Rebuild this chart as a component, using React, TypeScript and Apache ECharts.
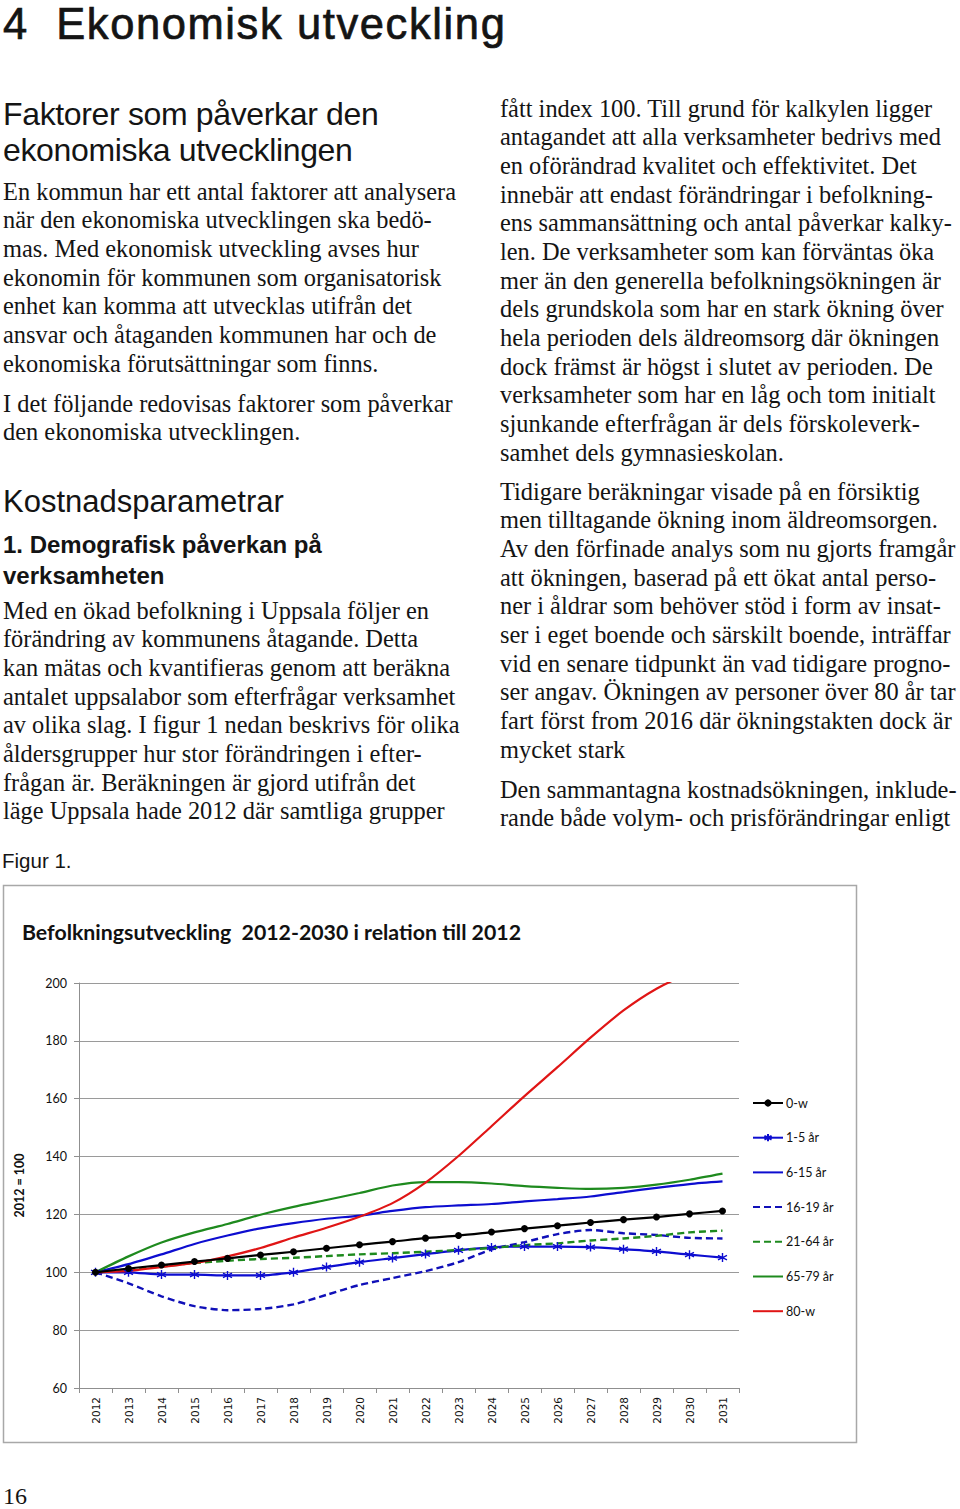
import React, { useEffect, useRef } from "react";
import * as echarts from "echarts";

// ---------- chart data ----------
const years = [
  "2012", "2013", "2014", "2015", "2016", "2017", "2018", "2019", "2020", "2021",
  "2022", "2023", "2024", "2025", "2026", "2027", "2028", "2029", "2030", "2031",
];
const total0w = [100, 101.3, 102.5, 103.7, 104.8, 106.0, 107.1, 108.3, 109.5, 110.6, 111.8, 112.7, 113.9, 115.1, 116.1, 117.2, 118.2, 119.1, 120.2, 121.2];
const age1to5 = [100, 100.0, 99.2, 99.2, 98.9, 98.9, 100.0, 101.8, 103.5, 104.9, 106.3, 107.6, 108.6, 108.9, 108.9, 108.7, 108.0, 107.2, 106.1, 105.1];
const age6to15 = [100, 102.8, 106.2, 109.8, 112.7, 115.2, 117.0, 118.5, 119.6, 121.2, 122.5, 123.1, 123.6, 124.5, 125.3, 126.2, 127.7, 129.2, 130.5, 131.4];
const age16to19 = [100, 96.2, 91.7, 88.3, 86.9, 87.3, 88.9, 92.2, 95.6, 98.0, 100.4, 103.5, 107.9, 110.4, 113.2, 114.6, 113.5, 112.9, 111.9, 111.7];
const age21to64 = [100, 101.0, 102.0, 103.2, 104.0, 104.6, 105.0, 105.6, 106.2, 106.6, 107.1, 107.7, 108.4, 109.4, 110.0, 111.0, 111.7, 112.6, 113.8, 114.4];
const age65to79 = [100, 105.5, 110.3, 113.8, 116.7, 119.9, 122.6, 125.0, 127.4, 130.0, 131.2, 131.2, 130.7, 129.8, 129.2, 128.8, 129.2, 130.3, 132.0, 134.1];
const age80plus = [100, 100.5, 101.8, 103.2, 105.5, 108.4, 112.0, 115.4, 119.2, 123.9, 131.0, 140.2, 150.5, 160.9, 170.9, 181.1, 190.5, 198.0, 203.5, 208.0];
const seriesNames = ["0-w", "1-5 år", "6-15 år", "16-19 år", "21-64 år", "65-79 år", "80-w"];
const yMin = 60;
const yMax = 200;
const yStep = 20;
const chartTitle = "Befolkningsutveckling  2012-2030 i relation till 2012";
const yAxisName = "2012 = 100";

// ---------- page text ----------
const pageHeading = "4  Ekonomisk utveckling";
const leftHeading = ["Faktorer som påverkar den", "ekonomiska utvecklingen"];
const leftPara1 = [
  "En kommun har ett antal faktorer att analysera",
  "när den ekonomiska utvecklingen ska bedö-",
  "mas. Med ekonomisk utveckling avses hur",
  "ekonomin för kommunen som organisatorisk",
  "enhet kan komma att utvecklas utifrån det",
  "ansvar och åtaganden kommunen har och de",
  "ekonomiska förutsättningar som finns.",
];
const leftPara2 = [
  "I det följande redovisas faktorer som påverkar",
  "den ekonomiska utvecklingen.",
];
const sectionHeading = "Kostnadsparametrar";
const subHeading = ["1. Demografisk påverkan på", "verksamheten"];
const leftPara3 = [
  "Med en ökad befolkning i Uppsala följer en",
  "förändring av kommunens åtagande. Detta",
  "kan mätas och kvantifieras genom att beräkna",
  "antalet uppsalabor som efterfrågar verksamhet",
  "av olika slag. I figur 1 nedan beskrivs för olika",
  "åldersgrupper hur stor förändringen i efter-",
  "frågan är. Beräkningen är gjord utifrån det",
  "läge Uppsala hade 2012 där samtliga grupper",
];
const figureLabel = "Figur 1.";
const rightPara1 = [
  "fått index 100. Till grund för kalkylen ligger",
  "antagandet att alla verksamheter bedrivs med",
  "en oförändrad kvalitet och effektivitet. Det",
  "innebär att endast förändringar i befolkning-",
  "ens sammansättning och antal påverkar kalky-",
  "len. De verksamheter som kan förväntas öka",
  "mer än den generella befolkningsökningen är",
  "dels grundskola som har en stark ökning över",
  "hela perioden dels äldreomsorg där ökningen",
  "dock främst är högst i slutet av perioden. De",
  "verksamheter som har en låg och tom initialt",
  "sjunkande efterfrågan är dels förskoleverk-",
  "samhet dels gymnasieskolan.",
];
const rightPara2 = [
  "Tidigare beräkningar visade på en försiktig",
  "men tilltagande ökning inom äldreomsorgen.",
  "Av den förfinade analys som nu gjorts framgår",
  "att ökningen, baserad på ett ökat antal perso-",
  "ner i åldrar som behöver stöd i form av insat-",
  "ser i eget boende och särskilt boende, inträffar",
  "vid en senare tidpunkt än vad tidigare progno-",
  "ser angav. Ökningen av personer över 80 år tar",
  "fart först from 2016 där ökningstakten dock är",
  "mycket stark",
];
const rightPara3 = [
  "Den sammantagna kostnadsökningen, inklude-",
  "rande både volym- och prisförändringar enligt",
];
const pageNumber = "16";

const SERIF = "'Liberation Serif', 'Times New Roman', serif";
const SANS = "'Liberation Sans', Arial, sans-serif";

type LineProps = {
  text: string; x: number; cy: number; size: number; family: string;
  weight?: number; spacing?: number; stroke?: number; lh?: number; top?: number;
};
function Line({ text, x, cy, size, family, weight, spacing, stroke, lh, top }: LineProps) {
  const lineH = lh || size;
  return (
    <div
      style={{
        position: "absolute",
        left: x,
        top: top !== undefined ? top : cy - lineH / 2,
        fontSize: size,
        lineHeight: `${lineH}px`,
        fontFamily: family,
        fontWeight: weight || 400,
        letterSpacing: spacing ? `${spacing}px` : undefined,
        WebkitTextStroke: stroke ? `${stroke}px #141414` : undefined,
        whiteSpace: "pre",
        color: "#141414",
      } as any}
    >
      {text}
    </div>
  );
}

function Block({ lines, x, cy0, step, size, family, weight, spacing }: { lines: string[]; x: number; cy0: number; step: number; size: number; family: string; weight?: number; spacing?: number }) {
  return (
    <>
      {lines.map((t, i) => (
        <Line key={i} text={t} x={x} cy={cy0 + i * step} size={size} family={family} weight={weight} spacing={spacing} />
      ))}
    </>
  );
}

const BLUE = "#0d0dd0";
const DBLUE = "#1010b8";
const GREEN = "#1e8a1e";
const RED = "#e01515";

export default function App() {
  const ref = useRef<HTMLDivElement>(null);

  useEffect(() => {
    if (!ref.current) return;
    const chart = echarts.init(ref.current, null, { renderer: "svg" });
    const asterisk = "path://M5,0L5,10M0.7,2.5L9.3,7.5M0.7,7.5L9.3,2.5";
    const base = { type: "line", smooth: 0.25, lineStyle: { width: 2.2 } };
    const hidden = { itemStyle: { opacity: 0 } };
    const option: any = {
      animation: false,
      backgroundColor: "transparent",
      title: {
        text: chartTitle,
        left: 22,
        top: 41,
        padding: 0,
        textStyle: { fontFamily: "Lato", fontWeight: "bold", fontSize: 21.3, color: "#111" },
      },
      graphic: [
        {
          type: "rect",
          shape: { x: 3.5, y: 5.5, width: 853, height: 557 },
          style: { fill: "none", stroke: "#a8a8a8", lineWidth: 1.5 },
          silent: true,
        },
      ],
      legend: {
        orient: "vertical",
        left: 752,
        top: 216.5,
        padding: 0,
        itemWidth: 30,
        itemHeight: 9,
        itemGap: 21.7,
        textStyle: { fontFamily: "Lato", fontSize: 12.5, color: "#111", lineHeight: 9, padding: [0, 0, 0, -2] },
        data: [
          { name: seriesNames[0] },
          { name: seriesNames[1] },
          { name: seriesNames[2], ...hidden },
          { name: seriesNames[3], ...hidden },
          { name: seriesNames[4], ...hidden },
          { name: seriesNames[5], ...hidden },
          { name: seriesNames[6], ...hidden },
        ],
      },
      grid: { left: 79, top: 103, width: 660, height: 405 },
      xAxis: {
        type: "category",
        data: years,
        boundaryGap: true,
        axisLine: { lineStyle: { color: "#8f8f8f", width: 1 } },
        axisTick: { show: true, length: 5, lineStyle: { color: "#8f8f8f" } },
        axisLabel: { rotate: 90, interval: 0, margin: 9, fontFamily: "DejaVu Sans", fontSize: 10.5, color: "#111" },
      },
      yAxis: {
        type: "value",
        min: yMin,
        max: yMax,
        interval: yStep,
        name: yAxisName,
        nameLocation: "middle",
        nameGap: 53,
        nameRotate: 90,
        nameTextStyle: { fontFamily: "Lato", fontWeight: "bold", fontSize: 12.5, color: "#111" },
        axisLine: { show: true, lineStyle: { color: "#8f8f8f", width: 1 } },
        axisTick: { show: true, length: 5, lineStyle: { color: "#8f8f8f" } },
        axisLabel: { margin: 12, fontFamily: "Lato", fontSize: 12.5, color: "#111" },
        splitLine: { lineStyle: { color: "#9a9a9a", width: 1.2 } },
      },
      series: [
        {
          ...base,
          name: seriesNames[0],
          data: total0w,
          symbol: "circle",
          symbolSize: 7,
          color: "#000",
          itemStyle: { color: "#000" },
          lineStyle: { width: 2.2, color: "#000" },
          z: 5,
        },
        {
          ...base,
          name: seriesNames[1],
          data: age1to5,
          symbol: asterisk,
          symbolSize: 9,
          color: BLUE,
          itemStyle: { color: BLUE, borderColor: BLUE, borderWidth: 1.4 },
          lineStyle: { width: 2.2, color: BLUE },
        },
        {
          ...base,
          name: seriesNames[2],
          data: age6to15,
          symbol: "none",
          color: BLUE,
          lineStyle: { width: 2.2, color: BLUE },
        },
        {
          ...base,
          name: seriesNames[3],
          data: age16to19,
          symbol: "none",
          color: DBLUE,
          lineStyle: { width: 2.4, color: DBLUE, type: [7, 4] },
        },
        {
          ...base,
          name: seriesNames[4],
          data: age21to64,
          symbol: "none",
          color: GREEN,
          lineStyle: { width: 2.4, color: GREEN, type: [7, 4] },
        },
        {
          ...base,
          name: seriesNames[5],
          data: age65to79,
          symbol: "none",
          color: GREEN,
          lineStyle: { width: 2.2, color: GREEN },
        },
        {
          ...base,
          name: seriesNames[6],
          data: age80plus,
          symbol: "none",
          color: RED,
          lineStyle: { width: 2.2, color: RED },
          clip: true,
        },
      ],
    };
    chart.setOption(option);
    return () => chart.dispose();
  }, []);

  const bodySize = 24.4;
  const step = 28.62;

  return (
    <div style={{ position: "absolute", left: 0, top: 0, width: 960, height: 1509, background: "#fff", overflow: "hidden" }}>
      <Line text={pageHeading} x={3} cy={0} top={0} lh={49} size={43.5} family={SANS} spacing={1.6} stroke={0.7} />
      <Block lines={leftHeading} x={3} cy0={114} step={35.5} size={32} family={SANS} spacing={-0.35} />
      <Block lines={leftPara1} x={3} cy0={192} step={step} size={bodySize} family={SERIF} />
      <Block lines={leftPara2} x={3} cy0={404} step={step} size={bodySize} family={SERIF} />
      <Line text={sectionHeading} x={3} cy={501} size={31} family={SANS} />
      <Block lines={subHeading} x={3} cy0={545} step={31} size={24} family={SANS} weight={700} />
      <Block lines={leftPara3} x={3} cy0={611} step={step} size={bodySize} family={SERIF} />
      <Line text={figureLabel} x={2} cy={861} size={20.5} family={SANS} />
      <Block lines={rightPara1} x={500} cy0={109} step={28.65} size={bodySize} family={SERIF} />
      <Block lines={rightPara2} x={500} cy0={492} step={28.65} size={bodySize} family={SERIF} />
      <Block lines={rightPara3} x={500} cy0={790} step={28.65} size={bodySize} family={SERIF} />
      <Line text={pageNumber} x={3} cy={1496} size={24} family={SERIF} />
      <div ref={ref} style={{ position: "absolute", left: 0, top: 880, width: 860, height: 570 }} />
    </div>
  );
}
